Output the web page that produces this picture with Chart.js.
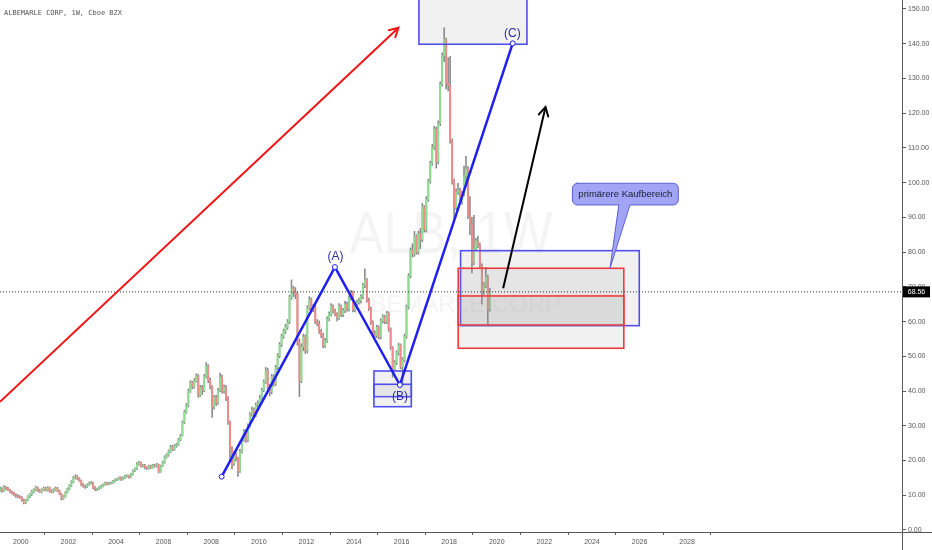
<!DOCTYPE html>
<html><head><meta charset="utf-8">
<script src="https://cdn.jsdelivr.net/npm/chart.js@4.4.1/dist/chart.umd.min.js"></script>
<style>html,body{margin:0;padding:0;background:#fff;overflow:hidden}canvas{display:block}</style>
</head><body>
<canvas id="c" width="932" height="550"></canvas>
<script>
// ---- monthly candles, first candle = Feb 1999 ----
const startYear = 1999, startMonth = 2;
const opens = [
11.4,11.8,11.2,12.3,12.0,11.6,11.0,10.6,10.1,9.7,9.6,
9.4,8.6,7.9,8.6,9.6,10.2,11.0,11.6,12.2,11.3,11.0,11.6,
12.0,11.5,12.2,11.2,11.0,11.6,12.0,11.2,10.4,9.0,9.6,10.8,
11.8,12.8,13.9,15.0,15.3,14.8,14.2,13.0,12.6,12.4,13.0,13.4,
13.6,12.2,11.6,11.8,12.2,12.6,13.0,13.5,13.2,13.4,13.6,14.0,
14.4,14.6,15.0,14.6,15.0,15.5,15.6,15.2,16.0,17.0,17.6,19.0,
19.4,18.4,18.6,18.0,17.8,18.4,18.0,18.6,18.4,18.8,16.8,18.4,
19.5,21.0,21.5,22.6,24.0,23.2,24.2,24.6,26.0,27.2,31.0,34.0,
35.8,40.0,42.4,41.2,43.0,44.4,38.8,41.0,40.2,44.2,47.2,43.0,
41.2,35.5,38.2,36.6,40.2,44.0,40.0,41.0,37.8,31.0,23.5,19.0,
21.8,20.5,17.0,22.6,26.0,28.4,25.8,30.0,33.2,34.6,33.0,36.0,
36.4,38.0,40.2,42.6,46.0,41.2,39.8,44.2,42.0,46.8,50.2,53.4,
55.8,57.2,58.4,60.0,67.0,69.4,68.6,67.8,54.0,43.0,52.8,55.6,
51.6,64.0,66.4,63.4,64.2,60.0,59.4,57.2,56.0,53.0,54.4,60.8,
62.2,64.4,63.0,62.2,61.0,64.4,62.0,63.2,65.0,63.6,66.8,68.4,
63.4,64.2,65.6,66.0,67.2,70.4,72.0,66.2,63.8,59.8,56.4,56.0,
58.4,55.6,60.2,61.4,60.0,62.4,57.8,52.6,46.4,48.2,51.0,53.2,
47.0,49.0,55.8,64.2,73.2,80.6,79.4,84.6,80.0,85.2,83.6,93.0,
86.4,95.2,100.4,105.6,110.2,115.4,106.0,117.0,128.4,136.6,141.2,128.6,
128.0,112.0,100.2,92.8,97.2,97.8,94.6,96.8,102.0,104.0,90.4,88.0,
77.0,81.0,83.2,82.0,76.0,68.8,70.4,72.8,63.6];
const highs = [
12.4,12.2,12.8,12.6,12.3,11.8,11.3,10.9,10.4,10.2,9.9,
9.6,8.9,8.9,9.9,10.5,11.4,11.9,12.6,12.4,11.7,11.9,12.4,
12.3,12.5,12.4,11.6,11.9,12.4,12.3,11.5,10.6,9.9,11.1,12.1,
13.1,14.2,15.4,15.9,15.7,15.1,14.4,13.4,12.9,13.3,13.8,14.0,
13.8,12.5,12.1,12.5,12.9,13.3,13.8,13.8,13.7,13.9,14.3,14.7,
14.9,15.3,15.3,15.3,15.8,15.9,15.8,16.3,17.3,17.9,19.4,19.8,
19.6,18.9,18.9,18.3,18.7,18.7,18.9,18.9,19.2,19.0,18.7,19.8,
21.4,21.9,23.0,24.4,24.4,24.6,25.0,26.4,27.6,31.4,34.5,36.4,
40.6,43.0,42.8,43.6,45.0,44.8,41.6,41.6,44.8,48.2,47.6,43.8,
41.6,38.8,38.8,40.8,45.2,44.6,41.8,41.6,38.4,31.4,24.0,22.6,
22.4,21.0,23.2,26.6,29.0,28.8,30.6,33.8,35.4,35.2,36.6,37.2,
38.8,40.8,43.2,46.8,46.6,42.0,44.8,44.8,47.4,50.8,54.0,56.4,
57.8,59.2,60.6,67.6,72.0,70.2,69.8,68.4,55.0,53.6,56.4,56.2,
64.6,67.2,66.8,65.0,64.8,60.6,60.2,57.8,56.6,55.2,61.4,62.8,
65.2,64.8,63.6,62.6,65.2,64.8,63.8,65.8,65.6,67.4,69.0,68.8,
64.8,66.2,66.8,67.8,71.0,75.2,72.4,66.8,64.2,60.2,57.4,59.0,
58.8,60.8,62.0,61.8,63.0,62.8,58.2,52.8,48.8,51.6,53.8,53.6,
49.6,56.4,64.8,73.8,81.2,82.4,86.0,85.0,86.0,86.8,94.0,93.4,
96.0,101.0,106.2,111.0,116.2,116.0,117.8,129.0,137.4,144.6,141.6,136.0,
136.4,112.6,101.0,98.2,99.8,98.4,97.6,104.8,107.6,104.6,96.0,90.0,
90.6,84.0,84.6,82.6,76.6,71.2,75.6,73.4,69.6];
const lows = [
11.0,10.9,11.0,11.6,11.3,10.7,10.3,9.8,9.4,9.3,9.1,
8.3,7.5,7.6,8.4,9.3,9.9,10.7,11.3,11.0,10.8,10.7,11.3,
11.2,11.2,10.9,10.7,10.8,11.3,11.0,10.2,8.6,8.8,9.4,10.6,
11.5,12.5,13.6,14.7,14.5,14.0,12.7,12.3,12.0,12.2,12.8,13.2,
11.8,11.3,11.3,11.6,12.0,12.4,12.8,13.0,13.0,13.2,13.4,13.8,
14.2,14.4,14.3,14.4,14.8,15.2,14.9,15.0,15.8,16.8,17.4,18.7,
18.1,18.1,17.6,17.4,17.5,17.7,17.8,18.1,18.1,16.4,16.6,18.2,
19.2,20.7,21.2,22.3,22.8,22.9,23.8,24.3,25.7,27.0,30.6,33.6,
35.4,39.6,40.6,40.8,42.6,38.2,38.4,39.0,39.8,43.8,42.4,40.6,
32.4,34.8,35.8,36.2,39.8,39.4,39.4,37.2,30.4,20.2,17.6,18.6,
19.8,15.4,16.6,22.2,25.6,25.2,25.4,29.6,32.8,32.4,32.6,35.4,
35.8,37.6,39.8,42.2,40.6,38.6,39.2,41.4,41.6,46.2,49.6,52.8,
55.2,56.6,57.8,59.4,66.4,67.2,66.6,53.2,38.4,42.4,51.6,50.8,
51.0,63.4,62.8,62.8,59.4,58.8,56.6,55.4,52.4,52.6,54.0,60.2,
61.6,62.4,61.6,60.2,60.6,61.4,61.4,62.6,63.0,63.0,66.2,62.8,
62.8,63.6,65.0,65.4,66.6,69.8,65.6,63.2,59.2,55.6,55.4,55.4,
55.0,55.0,59.6,59.4,59.4,57.2,52.0,44.0,45.8,47.6,50.4,46.4,
41.6,48.4,55.2,63.6,72.6,78.6,78.8,79.4,79.4,81.0,83.0,85.8,
85.8,94.6,99.8,105.0,109.6,104.2,105.4,116.4,127.8,134.8,127.0,126.4,
111.4,99.6,89.4,92.2,96.6,94.0,93.8,96.2,99.0,89.6,85.0,74.0,
76.4,80.4,81.2,75.4,65.0,67.8,69.8,59.0,63.0];
const closes = [
11.8,11.2,12.3,12.0,11.6,11.0,10.6,10.1,9.7,9.6,9.4,
8.6,7.9,8.6,9.6,10.2,11.0,11.6,12.2,11.3,11.0,11.6,12.0,
11.5,12.2,11.2,11.0,11.6,12.0,11.2,10.4,9.0,9.6,10.8,11.8,
12.8,13.9,15.0,15.3,14.8,14.2,13.0,12.6,12.4,13.0,13.4,13.6,
12.2,11.6,11.8,12.2,12.6,13.0,13.5,13.2,13.4,13.6,14.0,14.4,
14.6,15.0,14.6,15.0,15.5,15.6,15.2,16.0,17.0,17.6,19.0,19.4,
18.4,18.6,18.0,17.8,18.4,18.0,18.6,18.4,18.8,16.8,18.4,19.5,
21.0,21.5,22.6,24.0,23.2,24.2,24.6,26.0,27.2,31.0,34.0,35.8,
40.0,42.4,41.2,43.0,44.4,38.8,41.0,40.2,44.2,47.2,43.0,41.2,
35.5,38.2,36.6,40.2,44.0,40.0,41.0,37.8,31.0,23.5,19.0,21.8,
20.5,17.0,22.6,26.0,28.4,25.8,30.0,33.2,34.6,33.0,36.0,36.4,
38.0,40.2,42.6,46.0,41.2,39.8,44.2,42.0,46.8,50.2,53.4,55.8,
57.2,58.4,60.0,67.0,69.4,68.6,67.8,54.0,43.0,52.8,55.6,51.6,
64.0,66.4,63.4,64.2,60.0,59.4,57.2,56.0,53.0,54.4,60.8,62.2,
64.4,63.0,62.2,61.0,64.4,62.0,63.2,65.0,63.6,66.8,68.4,63.4,
64.2,65.6,66.0,67.2,70.4,72.0,66.2,63.8,59.8,56.4,56.0,58.4,
55.6,60.2,61.4,60.0,62.4,57.8,52.6,46.4,48.2,51.0,53.2,47.0,
49.0,55.8,64.2,73.2,80.6,79.4,84.6,80.0,85.2,83.6,93.0,86.4,
95.2,100.4,105.6,110.2,115.4,106.0,117.0,128.4,136.6,141.2,128.6,128.0,
112.0,100.2,92.8,97.2,97.8,94.6,96.8,102.0,104.0,90.4,88.0,77.0,
81.0,83.2,82.0,76.0,68.8,70.4,72.8,63.6,68.56];

// ---- axes ----
const yearTicks = [2000,2002,2004,2006,2008,2010,2012,2014,2016,2018,2020,2022,2024,2026,2028];
const priceTicks = [0,10,20,30,40,50,60,70,80,90,100,110,120,130,140,150];
const xRange = [1999.126, 2037.03];
const yRange = [-0.576, 152.59];
const lastPrice = 68.56;
const titleText = 'ALBEMARLE CORP, 1W, Cboe BZX';

// ---- drawings (x = year, y = price) ----
const redArrow = [{x:1999.126,y:36.9},{x:2015.87,y:144.6}];
const bluePath = [{x:2008.44,y:15.35},{x:2013.20,y:75.7},{x:2015.93,y:41.75},{x:2020.67,y:140.1}];
const blackArrow = [{x:2020.27,y:69.6},{x:2022.05,y:121.8}];
const waveLabels = [
  {t:'(A)',x:2013.22,y:78.8},
  {t:'(B)',x:2015.93,y:38.3},
  {t:'(C)',x:2020.66,y:143.0}];
const blueBoxes = [
  [2016.73,2021.27,160,139.85],
  [2014.84,2016.41,45.78,38.38],
  [2014.84,2016.41,41.95,35.50],
  [2018.48,2025.99,80.42,58.83]];
const redBoxes = [
  [2018.38,2025.34,75.35,59.03],
  [2018.38,2025.34,67.38,52.32]];
const callout = {text:'primärere Kaufbereich', x1:2023.18, x2:2027.63, y1:99.83, y2:93.58,
  b1:2025.13, b2:2025.60, tipX:2024.76, tipY:75.35};
const watermark1 = 'ALB, 1W', watermark2 = 'ALBEMARLE CORP';

// ---- build datasets ----
const tX = closes.map((c,i)=> startYear + (startMonth - 1 + i + 0.5)/12);
const wickData = tX.map((x,i)=>({x, y:[lows[i], highs[i]]}));
const bodyData = tX.map((x,i)=>({x, y:[opens[i], closes[i]]}));
const bodyColors = closes.map((c,i)=> c >= opens[i] ? '#8edd92' : '#f38a8a');

const FONT = 'Liberation Sans';

const drawPlugin = {
  id: 'draw',
  beforeDatasetsDraw(chart){
    const {ctx, chartArea:a} = chart;
    ctx.save();
    ctx.fillStyle = 'rgba(0,0,0,0.045)';
    ctx.textAlign = 'center'; ctx.textBaseline = 'middle';
    const cx = (a.left + a.right)/2;
    ctx.save();
    ctx.translate(cx, 236);
    ctx.scale(0.86, 1);
    ctx.font = '60px "' + FONT + '"';
    ctx.fillText(watermark1, 0, 0);
    ctx.restore();
    ctx.font = '24px "' + FONT + '"';
    ctx.fillText(watermark2, cx, 305);
    ctx.restore();
  },
  afterDatasetDraw(chart, args){
    if (args.index !== 1) return;
    const {ctx, chartArea:a, scales:{x, y}} = chart;
    ctx.save();
    ctx.beginPath(); ctx.rect(a.left, a.top, a.right-a.left, a.bottom-a.top); ctx.clip();
    const box = (b, stroke) => {
      const x1 = x.getPixelForValue(b[0]), x2 = x.getPixelForValue(b[1]);
      const y1 = y.getPixelForValue(b[2]), y2 = y.getPixelForValue(b[3]);
      ctx.fillStyle = 'rgba(150,150,150,0.13)';
      ctx.fillRect(x1, y1, x2-x1, y2-y1);
      ctx.strokeStyle = stroke; ctx.lineWidth = 1.6;
      ctx.strokeRect(x1, y1, x2-x1, y2-y1);
    };
    blueBoxes.forEach(b=>box(b,'#4f4ff0'));
    redBoxes.forEach(b=>box(b,'#f23b3b'));
    ctx.restore();
  },
  afterDatasetsDraw(chart){
    const {ctx, chartArea:a, scales:{x, y}} = chart;
    const P = p => [x.getPixelForValue(p.x), y.getPixelForValue(p.y)];
    ctx.save();
    const head = (pts, color) => {
      const [x1,y1] = P(pts[0]), [x2,y2] = P(pts[1]);
      const ang = Math.atan2(y2-y1, x2-x1), L = 10, s = 0.5;
      ctx.strokeStyle = color; ctx.lineWidth = 2; ctx.lineCap = 'round';
      ctx.beginPath();
      ctx.moveTo(x2 - L*Math.cos(ang - s), y2 - L*Math.sin(ang - s));
      ctx.lineTo(x2, y2);
      ctx.lineTo(x2 - L*Math.cos(ang + s), y2 - L*Math.sin(ang + s));
      ctx.stroke();
    };
    head(redArrow, '#f01414');
    head(blackArrow, '#000');
    // wave labels
    ctx.fillStyle = '#2d2d9e';
    ctx.font = '12px "' + FONT + '"';
    ctx.textAlign = 'center'; ctx.textBaseline = 'middle';
    waveLabels.forEach(l=>{ const [px,py] = P(l); ctx.fillText(l.t, px, py); });
    // callout
    const cx1 = x.getPixelForValue(callout.x1), cx2 = x.getPixelForValue(callout.x2);
    const cy1 = y.getPixelForValue(callout.y1), cy2 = y.getPixelForValue(callout.y2);
    const bx1 = x.getPixelForValue(callout.b1), bx2 = x.getPixelForValue(callout.b2);
    const tx = x.getPixelForValue(callout.tipX), ty = y.getPixelForValue(callout.tipY);
    ctx.fillStyle = '#a2a5f6'; ctx.strokeStyle = '#5b5ed2'; ctx.lineWidth = 1;
    ctx.beginPath(); ctx.roundRect(cx1, cy1, cx2-cx1, cy2-cy1, 5); ctx.fill(); ctx.stroke();
    ctx.beginPath(); ctx.moveTo(bx1, cy2-1); ctx.lineTo(tx, ty); ctx.lineTo(bx2, cy2-1); ctx.closePath(); ctx.fill();
    ctx.beginPath(); ctx.moveTo(bx1, cy2); ctx.lineTo(tx, ty); ctx.lineTo(bx2, cy2); ctx.stroke();
    ctx.fillStyle = '#1c1c33';
    ctx.font = '9.5px "' + FONT + '"';
    ctx.fillText(callout.text, (cx1+cx2)/2, (cy1+cy2)/2 + 0.5);
    ctx.restore();
  },
  afterDraw(chart){
    const {ctx, chartArea:a, scales:{y}, width, height} = chart;
    ctx.save();
    ctx.strokeStyle = '#5a5a5a'; ctx.lineWidth = 1;
    ctx.beginPath();
    ctx.moveTo(0, Math.round(a.bottom)+0.5); ctx.lineTo(width, Math.round(a.bottom)+0.5);
    ctx.moveTo(Math.round(a.right)+0.5, 0); ctx.lineTo(Math.round(a.right)+0.5, height);
    ctx.stroke();
    // last price label
    const py = y.getPixelForValue(lastPrice);
    ctx.fillStyle = '#000';
    ctx.fillRect(a.right+1, py-5.5, 27, 11);
    ctx.fillStyle = '#fff';
    ctx.font = '7px "' + FONT + '"';
    ctx.textAlign = 'center'; ctx.textBaseline = 'middle';
    ctx.fillText(lastPrice.toFixed(2), a.right + 14.5, py + 0.5);
    // title
    ctx.fillStyle = '#555';
    ctx.font = '7px "DejaVu Sans Mono"';
    ctx.textAlign = 'left'; ctx.textBaseline = 'alphabetic';
    ctx.fillText(titleText, 4, 14.5);
    ctx.restore();
  }
};

new Chart(document.getElementById('c'), {
  type: 'bar',
  data: { datasets: [
    { type:'bar', label:'wick', data: wickData, backgroundColor:'#868686', barThickness:0.9, grouped:false, order:5 },
    { type:'bar', label:'body', data: bodyData, backgroundColor: bodyColors, barThickness:1.3, grouped:false, order:4 },
    { type:'line', label:'last', data:[{x:xRange[0],y:lastPrice},{x:xRange[1],y:lastPrice}],
      borderColor:'#333', borderWidth:1, borderDash:[1,2], pointRadius:0, order:3 },
    { type:'line', label:'red', data: redArrow, borderColor:'#f01414', borderWidth:2, pointRadius:0, order:2 },
    { type:'line', label:'black', data: blackArrow, borderColor:'#000', borderWidth:2, pointRadius:0, order:2 },
    { type:'line', label:'abc', data: bluePath, borderColor:'#1f1ff2', borderWidth:2.5,
      pointRadius:2.5, pointBackgroundColor:'#fff', pointBorderColor:'#1f1ff2', pointBorderWidth:1, order:1 }
  ]},
  options: {
    responsive:false, animation:false, events:[],
    layout:{padding:0, autoPadding:false},
    plugins:{ legend:{display:false}, tooltip:{enabled:false} },
    scales:{
      x:{ type:'linear', position:'bottom', min:xRange[0], max:xRange[1], offset:false,
        grid:{ drawOnChartArea:false, drawTicks:true, tickLength:3, color:'#5a5a5a' },
        border:{ display:false },
        ticks:{ autoSkip:false, maxRotation:0, padding:3, color:'#555', font:{family:FONT, size:7},
          callback:v=>String(v) },
        afterBuildTicks:s=>{ s.ticks = yearTicks.map(v=>({value:v})); },
        afterFit:s=>{ s.height = 18; s.paddingLeft = 0; s.paddingRight = 0; } },
      y:{ type:'linear', position:'right', min:yRange[0], max:yRange[1],
        grid:{ drawOnChartArea:false, drawTicks:true, tickLength:4, color:'#5a5a5a' },
        border:{ display:false },
        ticks:{ autoSkip:false, padding:2, color:'#555', font:{family:FONT, size:7},
          callback:v=>Number(v).toFixed(2) },
        afterBuildTicks:s=>{ s.ticks = priceTicks.map(v=>({value:v})); },
        afterFit:s=>{ s.width = 30; s.paddingTop = 0; s.paddingBottom = 0; } }
    }
  },
  plugins:[drawPlugin]
});
</script>
</body></html>
